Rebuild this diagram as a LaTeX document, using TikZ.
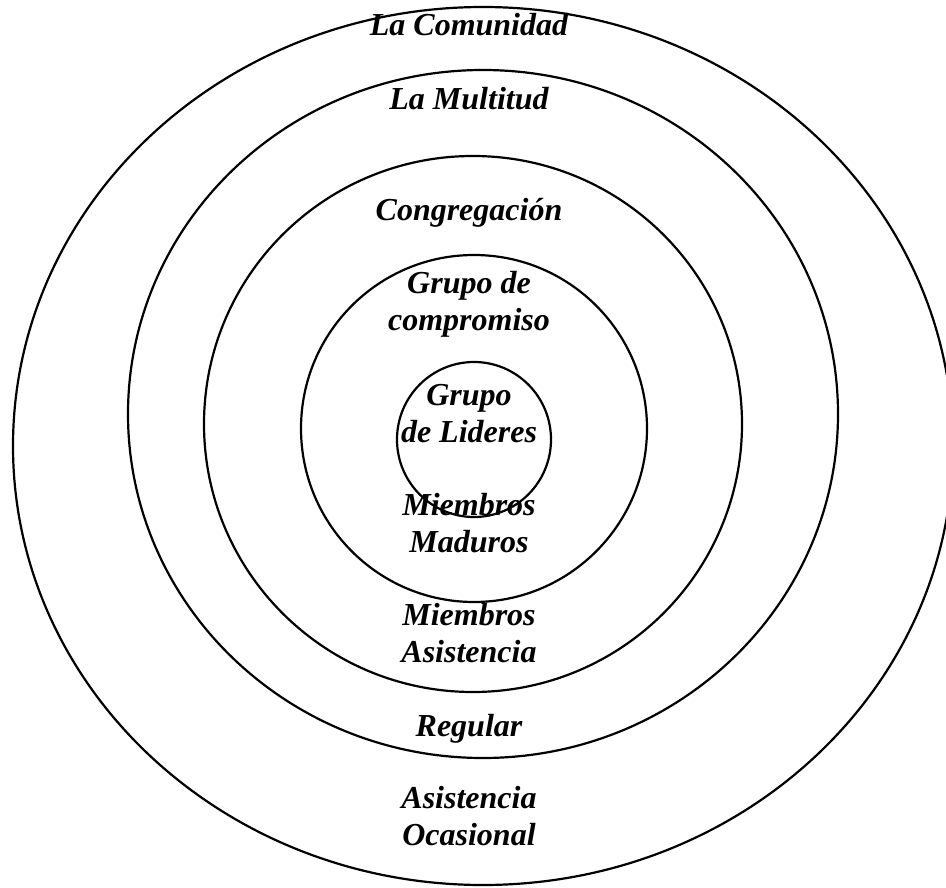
\documentclass[tikz,border=0pt]{standalone}
\usepackage{fontspec}
\setmainfont{Liberation Serif}
\usepackage{tikz}
\usetikzlibrary{positioning}

\tikzset{
  ring/.style={draw=black, line width=2.2pt},
  ringlabel/.style={anchor=base, align=center, inner sep=0pt,
    font=\fontsize{32}{37}\selectfont\bfseries\itshape}
}

\begin{document}
\begin{tikzpicture}[x=1pt, y=-1pt]
        \useasboundingbox (0, 0) rectangle (946, 888);

        % centres of the rings
        \coordinate (comunidad-c) at (483, 446);
        \coordinate (multitud-c) at (483, 414);
        \coordinate (congregacion-c) at (473, 424);
        \coordinate (compromiso-c) at (474, 428.5);
        \coordinate (lideres-c) at (474, 439.5);

        \draw[ring] (comunidad-c) ellipse [x radius=470, y radius=439];
        \draw[ring] (multitud-c) ellipse [x radius=355, y radius=344];
        \draw[ring] (congregacion-c) ellipse [x radius=269, y radius=268];
        \draw[ring] (compromiso-c) ellipse [x radius=173, y radius=173.5];
        \draw[ring] (lideres-c) ellipse [x radius=77, y radius=77.5];

        % single-line labels sit on their baseline,
        % two-line labels on the baseline of their second line
        \node[ringlabel] (comunidad-t) at (469, 36) {La Comunidad};
        \node[ringlabel] (multitud-t) at (469, 110) {La Multitud};
        \node[ringlabel] (congregacion-t) at (469, 221) {Congregación};
        \node[ringlabel] (compromiso-t) at (469, 330) {Grupo de\\compromiso};
        \node[ringlabel] (lideres-t) at (469, 442) {Grupo\\de Lideres};
        \node[ringlabel] (maduros-t) at (469, 552) {Miembros\\Maduros};
        \node[ringlabel] (asistencia-t) at (469, 662) {Miembros\\Asistencia};
        \node[ringlabel] (regular-t) at (469, 736) {Regular};
        \node[ringlabel] (ocasional-t) at (469, 845) {Asistencia\\Ocasional};
        %\node[below = 0 of regular-t] {};
      \end{tikzpicture}
\end{document}
